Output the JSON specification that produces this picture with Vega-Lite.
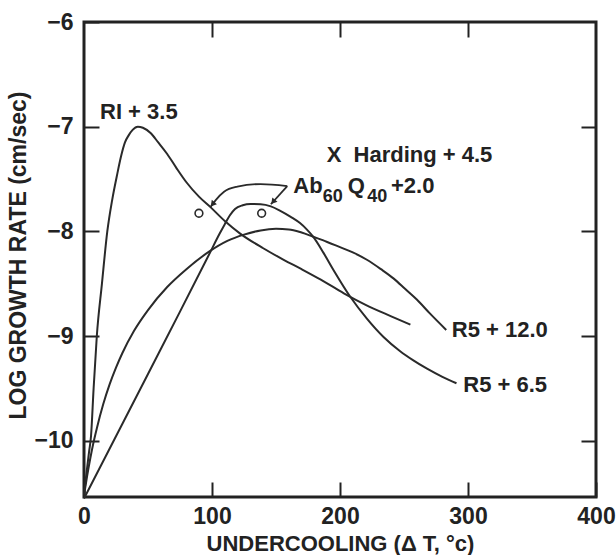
{
  "$schema": "https://vega.github.io/schema/vega-lite/v6.json",
  "width": 512,
  "height": 475,
  "autosize": {"type": "none"},
  "padding": {"left": 84, "top": 22, "right": 20, "bottom": 58},
  "background": "white",
  "config": {
    "view": {"stroke": "#222", "strokeWidth": 3},
    "font": "Liberation Sans"
  },
  "datasets": {
    "curves": [
      {"series": "RI", "T": 0, "v": -10.52}, {"series": "RI", "T": 2, "v": -10.3}, {"series": "RI", "T": 4, "v": -10.1}, {"series": "RI", "T": 5.5, "v": -9.95}, {"series": "RI", "T": 7.5, "v": -9.5}, {"series": "RI", "T": 10, "v": -9.0}, {"series": "RI", "T": 14, "v": -8.5}, {"series": "RI", "T": 18.2, "v": -8.0}, {"series": "RI", "T": 22, "v": -7.7}, {"series": "RI", "T": 26, "v": -7.45}, {"series": "RI", "T": 29, "v": -7.28}, {"series": "RI", "T": 32, "v": -7.15}, {"series": "RI", "T": 35, "v": -7.08}, {"series": "RI", "T": 38, "v": -7.03}, {"series": "RI", "T": 42, "v": -7.0}, {"series": "RI", "T": 46, "v": -7.01}, {"series": "RI", "T": 52, "v": -7.06}, {"series": "RI", "T": 58, "v": -7.15}, {"series": "RI", "T": 65, "v": -7.26}, {"series": "RI", "T": 72, "v": -7.39}, {"series": "RI", "T": 80, "v": -7.53}, {"series": "RI", "T": 90, "v": -7.67}, {"series": "RI", "T": 99, "v": -7.77}, {"series": "RI", "T": 110, "v": -7.9}, {"series": "RI", "T": 122, "v": -8.02}, {"series": "RI", "T": 140, "v": -8.16}, {"series": "RI", "T": 156, "v": -8.27}, {"series": "RI", "T": 170, "v": -8.36}, {"series": "RI", "T": 185, "v": -8.46}, {"series": "RI", "T": 203, "v": -8.59}, {"series": "RI", "T": 220, "v": -8.7}, {"series": "RI", "T": 240, "v": -8.81}, {"series": "RI", "T": 255, "v": -8.89},
      {"series": "R12", "T": 0, "v": -10.52}, {"series": "R12", "T": 2.5, "v": -10.33}, {"series": "R12", "T": 5, "v": -10.16}, {"series": "R12", "T": 7.5, "v": -10.01}, {"series": "R12", "T": 10, "v": -9.88}, {"series": "R12", "T": 15, "v": -9.65}, {"series": "R12", "T": 20, "v": -9.46}, {"series": "R12", "T": 25, "v": -9.3}, {"series": "R12", "T": 30, "v": -9.16}, {"series": "R12", "T": 39, "v": -8.95}, {"series": "R12", "T": 50, "v": -8.75}, {"series": "R12", "T": 65, "v": -8.53}, {"series": "R12", "T": 80, "v": -8.36}, {"series": "R12", "T": 98, "v": -8.19}, {"series": "R12", "T": 112, "v": -8.09}, {"series": "R12", "T": 125, "v": -8.03}, {"series": "R12", "T": 138, "v": -7.99}, {"series": "R12", "T": 150, "v": -7.975}, {"series": "R12", "T": 160, "v": -7.98}, {"series": "R12", "T": 170, "v": -8.01}, {"series": "R12", "T": 179, "v": -8.05}, {"series": "R12", "T": 190, "v": -8.1}, {"series": "R12", "T": 200, "v": -8.15}, {"series": "R12", "T": 210, "v": -8.2}, {"series": "R12", "T": 221, "v": -8.27}, {"series": "R12", "T": 232, "v": -8.36}, {"series": "R12", "T": 242, "v": -8.45}, {"series": "R12", "T": 251, "v": -8.55}, {"series": "R12", "T": 260, "v": -8.65}, {"series": "R12", "T": 270, "v": -8.78}, {"series": "R12", "T": 283, "v": -8.94},
      {"series": "R6", "T": 0, "v": -10.55}, {"series": "R6", "T": 25, "v": -9.955}, {"series": "R6", "T": 50, "v": -9.36}, {"series": "R6", "T": 75, "v": -8.765}, {"series": "R6", "T": 97.7, "v": -8.22}, {"series": "R6", "T": 106, "v": -8.02}, {"series": "R6", "T": 110, "v": -7.93}, {"series": "R6", "T": 114, "v": -7.845}, {"series": "R6", "T": 118, "v": -7.785}, {"series": "R6", "T": 124, "v": -7.75}, {"series": "R6", "T": 130, "v": -7.738}, {"series": "R6", "T": 138, "v": -7.74}, {"series": "R6", "T": 146, "v": -7.76}, {"series": "R6", "T": 153, "v": -7.8}, {"series": "R6", "T": 161.5, "v": -7.86}, {"series": "R6", "T": 168.75, "v": -7.92}, {"series": "R6", "T": 174, "v": -7.98}, {"series": "R6", "T": 179, "v": -8.05}, {"series": "R6", "T": 187, "v": -8.202}, {"series": "R6", "T": 195, "v": -8.37}, {"series": "R6", "T": 208, "v": -8.6235}, {"series": "R6", "T": 221, "v": -8.8315}, {"series": "R6", "T": 234, "v": -9.007}, {"series": "R6", "T": 247, "v": -9.143}, {"series": "R6", "T": 257, "v": -9.228}, {"series": "R6", "T": 268, "v": -9.31}, {"series": "R6", "T": 280, "v": -9.388}, {"series": "R6", "T": 291, "v": -9.449}
    ],
    "arrows": [
      {"series": "a1", "T": 99, "v": -7.763}, {"series": "a1", "T": 102.9, "v": -7.7}, {"series": "a1", "T": 109.4, "v": -7.62}, {"series": "a1", "T": 119.8, "v": -7.572}, {"series": "a1", "T": 138, "v": -7.547}, {"series": "a1", "T": 158.8, "v": -7.566},
      {"series": "a2", "T": 146, "v": -7.74}, {"series": "a2", "T": 158.8, "v": -7.566}
    ],
    "heads": [
      {"T": 100.4, "v": -7.74}, {"T": 147.7, "v": -7.717}
    ],
    "circles": [
      {"T": 89.8, "v": -7.826}, {"T": 138.8, "v": -7.826}
    ],
    "labels": [
      {"T": 12.5, "v": -6.856, "label": "RI + 3.5"},
      {"T": 189.6, "v": -7.27, "label": "X\u00a0\u00a0Harding + 4.5"},
      {"T": 287.3, "v": -8.94, "label": "R5 + 12.0"},
      {"T": 296.3, "v": -9.465, "label": "R5 + 6.5"}
    ],
    "ab": [
      {"T": 163.5, "v": -7.63, "label": "Ab"},
      {"T": 206, "v": -7.63, "label": "Q"},
      {"T": 239.8, "v": -7.63, "label": "+2.0"}
    ],
    "subs": [
      {"T": 186.5, "v": -7.715, "label": "60"},
      {"T": 221.2, "v": -7.715, "label": "40"}
    ]
  },
  "resolve": {"axis": {"x": "independent", "y": "independent"}},
  "layer": [
    {
      "data": {"name": "curves"},
      "mark": {"type": "line", "interpolate": "monotone", "color": "#2a2a2a", "strokeWidth": 2},
      "encoding": {
        "x": {"field": "T", "type": "quantitative", "scale": {"domain": [0, 400], "nice": false, "zero": false},
          "axis": {"orient": "bottom", "values": [0, 100, 200, 300, 400], "domain": false, "grid": false, "tickSize": -15, "tickWidth": 2, "tickColor": "#222",
            "labelFont": "Liberation Sans", "labelFontWeight": "bold", "labelFontSize": 23, "labelColor": "#222", "labelPadding": 23, "labelFlush": false, "labelBound": false,
            "title": "UNDERCOOLING (Δ T, °c)", "titleFont": "Liberation Sans", "titleFontSize": 22, "titleFontWeight": "bold", "titleColor": "#222", "titleX": 256, "titleY": 46, "titleAlign": "center", "titleBaseline": "middle"}},
        "y": {"field": "v", "type": "quantitative", "scale": {"domain": [-10.535, -6], "nice": false, "zero": false},
          "axis": {"orient": "left", "values": [-10, -9, -8, -7, -6], "domain": false, "grid": false, "tickSize": -15, "tickWidth": 2, "tickColor": "#222",
            "labelFont": "Liberation Sans", "labelFontWeight": "bold", "labelFontSize": 23, "labelColor": "#222", "labelPadding": 26, "labelFlush": false, "labelBound": false,
            "title": "LOG GROWTH RATE (cm/sec)", "titleFont": "Liberation Sans", "titleFontSize": 23, "titleFontWeight": "bold", "titleColor": "#222", "titleX": -66, "titleY": 233, "titleAngle": 270, "titleAlign": "center", "titleBaseline": "middle"}},
        "detail": {"field": "series", "type": "nominal"}
      }
    },
    {
      "data": {"name": "arrows"},
      "mark": {"type": "line", "interpolate": "monotone", "color": "#2a2a2a", "strokeWidth": 1.8},
      "encoding": {
        "x": {"field": "T", "type": "quantitative", "scale": {"domain": [0, 400], "nice": false, "zero": false},
          "axis": {"orient": "top", "values": [100, 200, 300], "domain": false, "grid": false, "labels": false, "tickSize": -15, "tickWidth": 2, "tickColor": "#222", "title": null}},
        "y": {"field": "v", "type": "quantitative", "scale": {"domain": [-10.535, -6], "nice": false, "zero": false},
          "axis": {"orient": "right", "values": [-10, -9, -8, -7], "domain": false, "grid": false, "labels": false, "tickSize": -15, "tickWidth": 2, "tickColor": "#222", "title": null}},
        "detail": {"field": "series", "type": "nominal"}
      }
    },
    {
      "data": {"name": "heads"},
      "mark": {"type": "point", "shape": "triangle-up", "angle": 220, "filled": true, "color": "#2a2a2a", "size": 45, "opacity": 1},
      "encoding": {
        "x": {"field": "T", "type": "quantitative", "axis": null},
        "y": {"field": "v", "type": "quantitative", "axis": null}
      }
    },
    {
      "data": {"name": "circles"},
      "mark": {"type": "point", "shape": "circle", "filled": false, "color": "#2a2a2a", "strokeWidth": 1.6, "size": 60, "opacity": 1},
      "encoding": {
        "x": {"field": "T", "type": "quantitative", "axis": null},
        "y": {"field": "v", "type": "quantitative", "axis": null}
      }
    },
    {
      "data": {"name": "labels"},
      "mark": {"type": "text", "align": "left", "baseline": "middle", "font": "Liberation Sans", "fontWeight": "bold", "fontSize": 22, "color": "#222"},
      "encoding": {
        "x": {"field": "T", "type": "quantitative", "axis": null},
        "y": {"field": "v", "type": "quantitative", "axis": null},
        "text": {"field": "label", "type": "nominal"}
      }
    },
    {
      "data": {"name": "ab"},
      "mark": {"type": "text", "align": "left", "baseline": "alphabetic", "font": "Liberation Sans", "fontWeight": "bold", "fontSize": 22, "color": "#222"},
      "encoding": {
        "x": {"field": "T", "type": "quantitative", "axis": null},
        "y": {"field": "v", "type": "quantitative", "axis": null},
        "text": {"field": "label", "type": "nominal"}
      }
    },
    {
      "data": {"name": "subs"},
      "mark": {"type": "text", "align": "left", "baseline": "alphabetic", "font": "Liberation Sans", "fontWeight": "bold", "fontSize": 18, "color": "#222"},
      "encoding": {
        "x": {"field": "T", "type": "quantitative", "axis": null},
        "y": {"field": "v", "type": "quantitative", "axis": null},
        "text": {"field": "label", "type": "nominal"}
      }
    }
  ]
}
